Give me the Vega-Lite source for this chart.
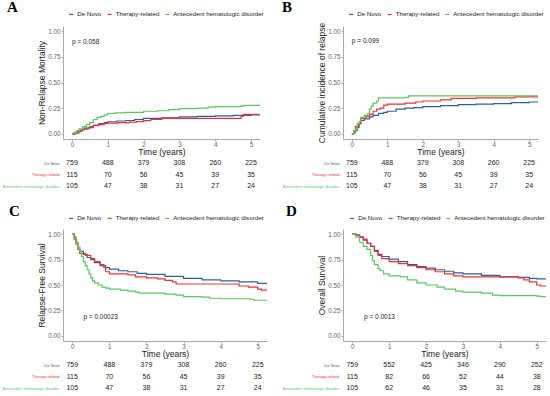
{
  "$schema": "https://vega.github.io/schema/vega-lite/v6.json",
  "background": "white",
  "padding": {"left": 2, "top": 0, "right": 2, "bottom": 0},
  "columns": 2,
  "bounds": "flush",
  "align": "each",
  "spacing": {"row": 0, "column": 76},
  "resolve": {"scale": {"color": "independent", "x": "independent", "y": "independent"}},
  "datasets": {
    "A": [
      {"group": "De Novo", "t": 0, "v": 0}, {"group": "De Novo", "t": 0.08, "v": 0.01}, {"group": "De Novo", "t": 0.15, "v": 0.025}, {"group": "De Novo", "t": 0.25, "v": 0.04}, {"group": "De Novo", "t": 0.35, "v": 0.055}, {"group": "De Novo", "t": 0.5, "v": 0.07}, {"group": "De Novo", "t": 0.6, "v": 0.085}, {"group": "De Novo", "t": 0.75, "v": 0.1}, {"group": "De Novo", "t": 0.9, "v": 0.11}, {"group": "De Novo", "t": 1.0, "v": 0.118}, {"group": "De Novo", "t": 1.25, "v": 0.125}, {"group": "De Novo", "t": 1.5, "v": 0.13}, {"group": "De Novo", "t": 1.75, "v": 0.14}, {"group": "De Novo", "t": 2.0, "v": 0.15}, {"group": "De Novo", "t": 2.5, "v": 0.157}, {"group": "De Novo", "t": 3.0, "v": 0.166}, {"group": "De Novo", "t": 3.5, "v": 0.17}, {"group": "De Novo", "t": 4.0, "v": 0.175}, {"group": "De Novo", "t": 4.5, "v": 0.18}, {"group": "De Novo", "t": 5.0, "v": 0.185}, {"group": "De Novo", "t": 5.3, "v": 0.19},
      {"group": "Therapy-related", "t": 0, "v": 0}, {"group": "Therapy-related", "t": 0.1, "v": 0.01}, {"group": "Therapy-related", "t": 0.2, "v": 0.03}, {"group": "Therapy-related", "t": 0.3, "v": 0.045}, {"group": "Therapy-related", "t": 0.45, "v": 0.06}, {"group": "Therapy-related", "t": 0.6, "v": 0.08}, {"group": "Therapy-related", "t": 0.75, "v": 0.09}, {"group": "Therapy-related", "t": 0.9, "v": 0.1}, {"group": "Therapy-related", "t": 1.0, "v": 0.105}, {"group": "Therapy-related", "t": 1.3, "v": 0.11}, {"group": "Therapy-related", "t": 1.6, "v": 0.115}, {"group": "Therapy-related", "t": 1.8, "v": 0.12}, {"group": "Therapy-related", "t": 2.0, "v": 0.128}, {"group": "Therapy-related", "t": 2.2, "v": 0.14}, {"group": "Therapy-related", "t": 2.5, "v": 0.15}, {"group": "Therapy-related", "t": 4.72, "v": 0.17}, {"group": "Therapy-related", "t": 4.78, "v": 0.19}, {"group": "Therapy-related", "t": 5.3, "v": 0.19},
      {"group": "Antecedent hematologic disorder", "t": 0, "v": 0}, {"group": "Antecedent hematologic disorder", "t": 0.05, "v": 0.01}, {"group": "Antecedent hematologic disorder", "t": 0.12, "v": 0.03}, {"group": "Antecedent hematologic disorder", "t": 0.2, "v": 0.05}, {"group": "Antecedent hematologic disorder", "t": 0.3, "v": 0.07}, {"group": "Antecedent hematologic disorder", "t": 0.4, "v": 0.09}, {"group": "Antecedent hematologic disorder", "t": 0.5, "v": 0.11}, {"group": "Antecedent hematologic disorder", "t": 0.6, "v": 0.14}, {"group": "Antecedent hematologic disorder", "t": 0.7, "v": 0.16}, {"group": "Antecedent hematologic disorder", "t": 0.8, "v": 0.17}, {"group": "Antecedent hematologic disorder", "t": 0.9, "v": 0.185}, {"group": "Antecedent hematologic disorder", "t": 1.0, "v": 0.198}, {"group": "Antecedent hematologic disorder", "t": 1.2, "v": 0.205}, {"group": "Antecedent hematologic disorder", "t": 1.5, "v": 0.21}, {"group": "Antecedent hematologic disorder", "t": 2.0, "v": 0.22}, {"group": "Antecedent hematologic disorder", "t": 2.4, "v": 0.225}, {"group": "Antecedent hematologic disorder", "t": 2.7, "v": 0.235}, {"group": "Antecedent hematologic disorder", "t": 3.0, "v": 0.246}, {"group": "Antecedent hematologic disorder", "t": 3.5, "v": 0.25}, {"group": "Antecedent hematologic disorder", "t": 3.8, "v": 0.26}, {"group": "Antecedent hematologic disorder", "t": 4.0, "v": 0.265}, {"group": "Antecedent hematologic disorder", "t": 4.7, "v": 0.27}, {"group": "Antecedent hematologic disorder", "t": 4.8, "v": 0.278}, {"group": "Antecedent hematologic disorder", "t": 5.3, "v": 0.28}
    ],
    "B": [
      {"group": "De Novo", "t": 0, "v": 0}, {"group": "De Novo", "t": 0.05, "v": 0.01}, {"group": "De Novo", "t": 0.1, "v": 0.03}, {"group": "De Novo", "t": 0.15, "v": 0.06}, {"group": "De Novo", "t": 0.2, "v": 0.1}, {"group": "De Novo", "t": 0.25, "v": 0.13}, {"group": "De Novo", "t": 0.35, "v": 0.145}, {"group": "De Novo", "t": 0.5, "v": 0.165}, {"group": "De Novo", "t": 0.6, "v": 0.18}, {"group": "De Novo", "t": 0.75, "v": 0.2}, {"group": "De Novo", "t": 0.9, "v": 0.21}, {"group": "De Novo", "t": 1.0, "v": 0.22}, {"group": "De Novo", "t": 1.25, "v": 0.24}, {"group": "De Novo", "t": 1.5, "v": 0.25}, {"group": "De Novo", "t": 1.75, "v": 0.255}, {"group": "De Novo", "t": 2.0, "v": 0.265}, {"group": "De Novo", "t": 2.5, "v": 0.275}, {"group": "De Novo", "t": 3.0, "v": 0.285}, {"group": "De Novo", "t": 3.5, "v": 0.29}, {"group": "De Novo", "t": 4.0, "v": 0.295}, {"group": "De Novo", "t": 4.5, "v": 0.305}, {"group": "De Novo", "t": 5.0, "v": 0.31}, {"group": "De Novo", "t": 5.3, "v": 0.31},
      {"group": "Therapy-related", "t": 0, "v": 0}, {"group": "Therapy-related", "t": 0.05, "v": 0.03}, {"group": "Therapy-related", "t": 0.1, "v": 0.07}, {"group": "Therapy-related", "t": 0.2, "v": 0.1}, {"group": "Therapy-related", "t": 0.25, "v": 0.15}, {"group": "Therapy-related", "t": 0.4, "v": 0.17}, {"group": "Therapy-related", "t": 0.5, "v": 0.19}, {"group": "Therapy-related", "t": 0.6, "v": 0.22}, {"group": "Therapy-related", "t": 0.7, "v": 0.24}, {"group": "Therapy-related", "t": 0.8, "v": 0.25}, {"group": "Therapy-related", "t": 0.9, "v": 0.28}, {"group": "Therapy-related", "t": 1.0, "v": 0.29}, {"group": "Therapy-related", "t": 1.5, "v": 0.3}, {"group": "Therapy-related", "t": 1.8, "v": 0.31}, {"group": "Therapy-related", "t": 2.0, "v": 0.32}, {"group": "Therapy-related", "t": 2.5, "v": 0.33}, {"group": "Therapy-related", "t": 2.8, "v": 0.345}, {"group": "Therapy-related", "t": 3.5, "v": 0.35}, {"group": "Therapy-related", "t": 4.6, "v": 0.36}, {"group": "Therapy-related", "t": 5.3, "v": 0.36},
      {"group": "Antecedent hematologic disorder", "t": 0, "v": 0}, {"group": "Antecedent hematologic disorder", "t": 0.05, "v": 0.02}, {"group": "Antecedent hematologic disorder", "t": 0.1, "v": 0.05}, {"group": "Antecedent hematologic disorder", "t": 0.15, "v": 0.1}, {"group": "Antecedent hematologic disorder", "t": 0.2, "v": 0.12}, {"group": "Antecedent hematologic disorder", "t": 0.25, "v": 0.16}, {"group": "Antecedent hematologic disorder", "t": 0.35, "v": 0.18}, {"group": "Antecedent hematologic disorder", "t": 0.45, "v": 0.2}, {"group": "Antecedent hematologic disorder", "t": 0.5, "v": 0.24}, {"group": "Antecedent hematologic disorder", "t": 0.55, "v": 0.27}, {"group": "Antecedent hematologic disorder", "t": 0.6, "v": 0.3}, {"group": "Antecedent hematologic disorder", "t": 0.7, "v": 0.32}, {"group": "Antecedent hematologic disorder", "t": 0.75, "v": 0.35}, {"group": "Antecedent hematologic disorder", "t": 1.5, "v": 0.355}, {"group": "Antecedent hematologic disorder", "t": 1.6, "v": 0.37}, {"group": "Antecedent hematologic disorder", "t": 5.3, "v": 0.37}
    ],
    "C": [
      {"group": "De Novo", "t": 0, "v": 1}, {"group": "De Novo", "t": 0.05, "v": 0.97}, {"group": "De Novo", "t": 0.1, "v": 0.92}, {"group": "De Novo", "t": 0.15, "v": 0.87}, {"group": "De Novo", "t": 0.2, "v": 0.83}, {"group": "De Novo", "t": 0.3, "v": 0.8}, {"group": "De Novo", "t": 0.4, "v": 0.77}, {"group": "De Novo", "t": 0.5, "v": 0.75}, {"group": "De Novo", "t": 0.6, "v": 0.72}, {"group": "De Novo", "t": 0.75, "v": 0.69}, {"group": "De Novo", "t": 0.9, "v": 0.67}, {"group": "De Novo", "t": 1.0, "v": 0.655}, {"group": "De Novo", "t": 1.25, "v": 0.64}, {"group": "De Novo", "t": 1.5, "v": 0.63}, {"group": "De Novo", "t": 1.75, "v": 0.615}, {"group": "De Novo", "t": 2.0, "v": 0.605}, {"group": "De Novo", "t": 2.5, "v": 0.585}, {"group": "De Novo", "t": 3.0, "v": 0.565}, {"group": "De Novo", "t": 3.5, "v": 0.55}, {"group": "De Novo", "t": 4.0, "v": 0.54}, {"group": "De Novo", "t": 4.5, "v": 0.53}, {"group": "De Novo", "t": 5.0, "v": 0.515}, {"group": "De Novo", "t": 5.3, "v": 0.51},
      {"group": "Therapy-related", "t": 0, "v": 1}, {"group": "Therapy-related", "t": 0.05, "v": 0.95}, {"group": "Therapy-related", "t": 0.1, "v": 0.9}, {"group": "Therapy-related", "t": 0.15, "v": 0.85}, {"group": "Therapy-related", "t": 0.2, "v": 0.81}, {"group": "Therapy-related", "t": 0.35, "v": 0.79}, {"group": "Therapy-related", "t": 0.5, "v": 0.76}, {"group": "Therapy-related", "t": 0.6, "v": 0.73}, {"group": "Therapy-related", "t": 0.75, "v": 0.7}, {"group": "Therapy-related", "t": 0.85, "v": 0.67}, {"group": "Therapy-related", "t": 0.9, "v": 0.63}, {"group": "Therapy-related", "t": 1.0, "v": 0.61}, {"group": "Therapy-related", "t": 1.5, "v": 0.6}, {"group": "Therapy-related", "t": 1.7, "v": 0.58}, {"group": "Therapy-related", "t": 2.0, "v": 0.57}, {"group": "Therapy-related", "t": 2.3, "v": 0.56}, {"group": "Therapy-related", "t": 2.5, "v": 0.545}, {"group": "Therapy-related", "t": 2.7, "v": 0.53}, {"group": "Therapy-related", "t": 2.8, "v": 0.51}, {"group": "Therapy-related", "t": 4.5, "v": 0.49}, {"group": "Therapy-related", "t": 4.75, "v": 0.48}, {"group": "Therapy-related", "t": 5.0, "v": 0.46}, {"group": "Therapy-related", "t": 5.1, "v": 0.45}, {"group": "Therapy-related", "t": 5.3, "v": 0.45},
      {"group": "Antecedent hematologic disorder", "t": 0, "v": 1}, {"group": "Antecedent hematologic disorder", "t": 0.05, "v": 0.96}, {"group": "Antecedent hematologic disorder", "t": 0.1, "v": 0.92}, {"group": "Antecedent hematologic disorder", "t": 0.15, "v": 0.87}, {"group": "Antecedent hematologic disorder", "t": 0.2, "v": 0.83}, {"group": "Antecedent hematologic disorder", "t": 0.25, "v": 0.78}, {"group": "Antecedent hematologic disorder", "t": 0.3, "v": 0.73}, {"group": "Antecedent hematologic disorder", "t": 0.35, "v": 0.69}, {"group": "Antecedent hematologic disorder", "t": 0.4, "v": 0.65}, {"group": "Antecedent hematologic disorder", "t": 0.45, "v": 0.61}, {"group": "Antecedent hematologic disorder", "t": 0.5, "v": 0.57}, {"group": "Antecedent hematologic disorder", "t": 0.55, "v": 0.54}, {"group": "Antecedent hematologic disorder", "t": 0.6, "v": 0.52}, {"group": "Antecedent hematologic disorder", "t": 0.7, "v": 0.5}, {"group": "Antecedent hematologic disorder", "t": 0.8, "v": 0.48}, {"group": "Antecedent hematologic disorder", "t": 0.9, "v": 0.47}, {"group": "Antecedent hematologic disorder", "t": 1.0, "v": 0.46}, {"group": "Antecedent hematologic disorder", "t": 1.3, "v": 0.45}, {"group": "Antecedent hematologic disorder", "t": 1.5, "v": 0.44}, {"group": "Antecedent hematologic disorder", "t": 1.7, "v": 0.43}, {"group": "Antecedent hematologic disorder", "t": 1.8, "v": 0.42}, {"group": "Antecedent hematologic disorder", "t": 2.5, "v": 0.41}, {"group": "Antecedent hematologic disorder", "t": 2.8, "v": 0.4}, {"group": "Antecedent hematologic disorder", "t": 3.0, "v": 0.385}, {"group": "Antecedent hematologic disorder", "t": 3.5, "v": 0.38}, {"group": "Antecedent hematologic disorder", "t": 3.7, "v": 0.37}, {"group": "Antecedent hematologic disorder", "t": 4.0, "v": 0.365}, {"group": "Antecedent hematologic disorder", "t": 4.8, "v": 0.36}, {"group": "Antecedent hematologic disorder", "t": 4.9, "v": 0.35}, {"group": "Antecedent hematologic disorder", "t": 5.3, "v": 0.35}
    ],
    "D": [
      {"group": "De Novo", "t": 0, "v": 1}, {"group": "De Novo", "t": 0.1, "v": 0.99}, {"group": "De Novo", "t": 0.2, "v": 0.97}, {"group": "De Novo", "t": 0.3, "v": 0.94}, {"group": "De Novo", "t": 0.4, "v": 0.91}, {"group": "De Novo", "t": 0.5, "v": 0.88}, {"group": "De Novo", "t": 0.6, "v": 0.84}, {"group": "De Novo", "t": 0.7, "v": 0.8}, {"group": "De Novo", "t": 0.8, "v": 0.78}, {"group": "De Novo", "t": 1.0, "v": 0.755}, {"group": "De Novo", "t": 1.25, "v": 0.73}, {"group": "De Novo", "t": 1.5, "v": 0.7}, {"group": "De Novo", "t": 1.75, "v": 0.68}, {"group": "De Novo", "t": 2.0, "v": 0.665}, {"group": "De Novo", "t": 2.25, "v": 0.65}, {"group": "De Novo", "t": 2.5, "v": 0.635}, {"group": "De Novo", "t": 2.75, "v": 0.62}, {"group": "De Novo", "t": 3.0, "v": 0.61}, {"group": "De Novo", "t": 3.5, "v": 0.595}, {"group": "De Novo", "t": 4.0, "v": 0.58}, {"group": "De Novo", "t": 4.5, "v": 0.575}, {"group": "De Novo", "t": 4.8, "v": 0.565}, {"group": "De Novo", "t": 5.0, "v": 0.56}, {"group": "De Novo", "t": 5.3, "v": 0.555},
      {"group": "Therapy-related", "t": 0, "v": 1}, {"group": "Therapy-related", "t": 0.1, "v": 0.99}, {"group": "Therapy-related", "t": 0.2, "v": 0.97}, {"group": "Therapy-related", "t": 0.3, "v": 0.95}, {"group": "Therapy-related", "t": 0.4, "v": 0.91}, {"group": "Therapy-related", "t": 0.5, "v": 0.88}, {"group": "Therapy-related", "t": 0.6, "v": 0.83}, {"group": "Therapy-related", "t": 0.7, "v": 0.79}, {"group": "Therapy-related", "t": 0.8, "v": 0.76}, {"group": "Therapy-related", "t": 1.0, "v": 0.73}, {"group": "Therapy-related", "t": 1.25, "v": 0.71}, {"group": "Therapy-related", "t": 1.5, "v": 0.69}, {"group": "Therapy-related", "t": 1.75, "v": 0.67}, {"group": "Therapy-related", "t": 2.0, "v": 0.65}, {"group": "Therapy-related", "t": 2.25, "v": 0.63}, {"group": "Therapy-related", "t": 2.5, "v": 0.61}, {"group": "Therapy-related", "t": 2.75, "v": 0.59}, {"group": "Therapy-related", "t": 3.0, "v": 0.58}, {"group": "Therapy-related", "t": 4.5, "v": 0.57}, {"group": "Therapy-related", "t": 4.65, "v": 0.55}, {"group": "Therapy-related", "t": 4.8, "v": 0.53}, {"group": "Therapy-related", "t": 5.0, "v": 0.5}, {"group": "Therapy-related", "t": 5.1, "v": 0.49}, {"group": "Therapy-related", "t": 5.3, "v": 0.49},
      {"group": "Antecedent hematologic disorder", "t": 0, "v": 1}, {"group": "Antecedent hematologic disorder", "t": 0.1, "v": 0.97}, {"group": "Antecedent hematologic disorder", "t": 0.2, "v": 0.92}, {"group": "Antecedent hematologic disorder", "t": 0.3, "v": 0.88}, {"group": "Antecedent hematologic disorder", "t": 0.4, "v": 0.85}, {"group": "Antecedent hematologic disorder", "t": 0.5, "v": 0.79}, {"group": "Antecedent hematologic disorder", "t": 0.55, "v": 0.74}, {"group": "Antecedent hematologic disorder", "t": 0.6, "v": 0.7}, {"group": "Antecedent hematologic disorder", "t": 0.7, "v": 0.66}, {"group": "Antecedent hematologic disorder", "t": 0.75, "v": 0.64}, {"group": "Antecedent hematologic disorder", "t": 0.85, "v": 0.61}, {"group": "Antecedent hematologic disorder", "t": 1.0, "v": 0.59}, {"group": "Antecedent hematologic disorder", "t": 1.3, "v": 0.58}, {"group": "Antecedent hematologic disorder", "t": 1.5, "v": 0.55}, {"group": "Antecedent hematologic disorder", "t": 1.75, "v": 0.52}, {"group": "Antecedent hematologic disorder", "t": 2.0, "v": 0.5}, {"group": "Antecedent hematologic disorder", "t": 2.3, "v": 0.48}, {"group": "Antecedent hematologic disorder", "t": 2.5, "v": 0.46}, {"group": "Antecedent hematologic disorder", "t": 2.8, "v": 0.44}, {"group": "Antecedent hematologic disorder", "t": 3.0, "v": 0.43}, {"group": "Antecedent hematologic disorder", "t": 3.5, "v": 0.42}, {"group": "Antecedent hematologic disorder", "t": 3.8, "v": 0.4}, {"group": "Antecedent hematologic disorder", "t": 4.0, "v": 0.395}, {"group": "Antecedent hematologic disorder", "t": 5.0, "v": 0.39}, {"group": "Antecedent hematologic disorder", "t": 5.1, "v": 0.385}, {"group": "Antecedent hematologic disorder", "t": 5.3, "v": 0.385}
    ],
    "riskABC": [
      {"group": "De Novo", "t": 0, "n": 759}, {"group": "De Novo", "t": 1, "n": 488}, {"group": "De Novo", "t": 2, "n": 379}, {"group": "De Novo", "t": 3, "n": 308}, {"group": "De Novo", "t": 4, "n": 260}, {"group": "De Novo", "t": 5, "n": 225},
      {"group": "Therapy-related", "t": 0, "n": 115}, {"group": "Therapy-related", "t": 1, "n": 70}, {"group": "Therapy-related", "t": 2, "n": 56}, {"group": "Therapy-related", "t": 3, "n": 45}, {"group": "Therapy-related", "t": 4, "n": 39}, {"group": "Therapy-related", "t": 5, "n": 35},
      {"group": "Antecedent hematologic disorder", "t": 0, "n": 105}, {"group": "Antecedent hematologic disorder", "t": 1, "n": 47}, {"group": "Antecedent hematologic disorder", "t": 2, "n": 38}, {"group": "Antecedent hematologic disorder", "t": 3, "n": 31}, {"group": "Antecedent hematologic disorder", "t": 4, "n": 27}, {"group": "Antecedent hematologic disorder", "t": 5, "n": 24}
    ],
    "riskD": [
      {"group": "De Novo", "t": 0, "n": 759}, {"group": "De Novo", "t": 1, "n": 552}, {"group": "De Novo", "t": 2, "n": 425}, {"group": "De Novo", "t": 3, "n": 346}, {"group": "De Novo", "t": 4, "n": 290}, {"group": "De Novo", "t": 5, "n": 252},
      {"group": "Therapy-related", "t": 0, "n": 115}, {"group": "Therapy-related", "t": 1, "n": 82}, {"group": "Therapy-related", "t": 2, "n": 66}, {"group": "Therapy-related", "t": 3, "n": 52}, {"group": "Therapy-related", "t": 4, "n": 44}, {"group": "Therapy-related", "t": 5, "n": 38},
      {"group": "Antecedent hematologic disorder", "t": 0, "n": 105}, {"group": "Antecedent hematologic disorder", "t": 1, "n": 62}, {"group": "Antecedent hematologic disorder", "t": 2, "n": 46}, {"group": "Antecedent hematologic disorder", "t": 3, "n": 35}, {"group": "Antecedent hematologic disorder", "t": 4, "n": 31}, {"group": "Antecedent hematologic disorder", "t": 5, "n": 28}
    ]
  },
  "concat": [
    {
      "width": 197, "height": 113,
      "title": {"text": "A", "anchor": "start", "frame": "group", "dx": -56, "offset": 0, "dy": 4},
      "layer": [
        {"data": {"name": "A"}, "mark": {"type": "line", "interpolate": "step-after", "clip": true},
         "encoding": {
           "x": {"field": "t", "type": "quantitative", "scale": {"domain": [-0.25, 5.25], "nice": false, "zero": false}, "axis": {"values": [0, 1, 2, 3, 4, 5], "format": "d", "title": "Time (years)", "labelOverlap": false}},
           "y": {"field": "v", "type": "quantitative", "scale": {"domain": [-0.05, 1.05], "nice": false, "zero": false}, "axis": {"values": [0, 0.25, 0.5, 0.75, 1], "format": ".2f", "title": "Non-Relapse Mortality", "labelOverlap": false}},
           "color": {"field": "group", "type": "nominal", "scale": {"domain": ["De Novo", "Therapy-related", "Antecedent hematologic disorder"], "range": ["#2C5EA8", "#EE3030", "#5BC85B"]}, "legend": {"orient": "none", "legendX": 5, "legendY": -15}},
           "strokeWidth": {"field": "group", "type": "nominal", "scale": {"domain": ["De Novo", "Therapy-related", "Antecedent hematologic disorder"], "range": [1.3, 1.3, 1.3]}, "legend": null}
         }},
        {"data": {"values": [{"label": "p = 0.058", "px": 0, "py": 0.89}]}, "mark": {"type": "text", "align": "left", "baseline": "middle", "fontSize": 6.5, "color": "#222"},
         "encoding": {
           "x": {"field": "px", "type": "quantitative", "axis": {"values": [0, 1, 2, 3, 4, 5], "format": "d", "title": "Time (years)", "labelOverlap": false}},
           "y": {"field": "py", "type": "quantitative", "axis": {"values": [0, 0.25, 0.5, 0.75, 1], "format": ".2f", "title": "Non-Relapse Mortality", "labelOverlap": false}},
           "text": {"field": "label"}}}
      ]
    },
    {
      "width": 195, "height": 113,
      "title": {"text": "B", "anchor": "start", "frame": "group", "dx": -61, "offset": 0, "dy": 4},
      "layer": [
        {"data": {"name": "B"}, "mark": {"type": "line", "interpolate": "step-after", "clip": true},
         "encoding": {
           "x": {"field": "t", "type": "quantitative", "scale": {"domain": [-0.25, 5.25], "nice": false, "zero": false}, "axis": {"values": [0, 1, 2, 3, 4, 5], "format": "d", "title": "Time (years)", "labelOverlap": false}},
           "y": {"field": "v", "type": "quantitative", "scale": {"domain": [-0.05, 1.05], "nice": false, "zero": false}, "axis": {"values": [0, 0.25, 0.5, 0.75, 1], "format": ".2f", "title": "Cumulative incidence of relapse", "labelOverlap": false}},
           "color": {"field": "group", "type": "nominal", "scale": {"domain": ["De Novo", "Therapy-related", "Antecedent hematologic disorder"], "range": ["#2C5EA8", "#EE3030", "#5BC85B"]}, "legend": {"orient": "none", "legendX": 5, "legendY": -15}},
           "strokeWidth": {"field": "group", "type": "nominal", "scale": {"domain": ["De Novo", "Therapy-related", "Antecedent hematologic disorder"], "range": [1.3, 1.3, 1.3]}, "legend": null}
         }},
        {"data": {"values": [{"label": "p = 0.099", "px": 0, "py": 0.9}]}, "mark": {"type": "text", "align": "left", "baseline": "middle", "fontSize": 6.5, "color": "#222"},
         "encoding": {
           "x": {"field": "px", "type": "quantitative", "axis": {"values": [0, 1, 2, 3, 4, 5], "format": "d", "title": "Time (years)", "labelOverlap": false}},
           "y": {"field": "py", "type": "quantitative", "axis": {"values": [0, 0.25, 0.5, 0.75, 1], "format": ".2f", "title": "Cumulative incidence of relapse", "labelOverlap": false}},
           "text": {"field": "label"}}}
      ]
    },
    {
      "width": 197, "height": 90,
      "data": {"name": "riskABC"},
      "mark": {"type": "text", "fontSize": 7, "color": "#222", "baseline": "middle"},
      "encoding": {
        "x": {"field": "t", "type": "quantitative", "scale": {"domain": [-0.25, 5.25], "nice": false, "zero": false}, "axis": null},
        "y": {"field": "group", "type": "nominal", "sort": ["De Novo", "Therapy-related", "Antecedent hematologic disorder"], "scale": {"type": "point", "padding": 0, "range": [24, 47]},
              "axis": {"title": null, "domain": false, "ticks": false, "labelFontSize": 3.9, "labelPadding": 4, "labelColor": {"condition": [{"test": "datum.value === 'De Novo'", "value": "#2C5EA8"}, {"test": "datum.value === 'Therapy-related'", "value": "#EE3030"}], "value": "#5BC85B"}}},
        "text": {"field": "n", "type": "quantitative"}
      }
    },
    {
      "width": 195, "height": 90,
      "data": {"name": "riskABC"},
      "mark": {"type": "text", "fontSize": 7, "color": "#222", "baseline": "middle"},
      "encoding": {
        "x": {"field": "t", "type": "quantitative", "scale": {"domain": [-0.25, 5.25], "nice": false, "zero": false}, "axis": null},
        "y": {"field": "group", "type": "nominal", "sort": ["De Novo", "Therapy-related", "Antecedent hematologic disorder"], "scale": {"type": "point", "padding": 0, "range": [24, 47]},
              "axis": {"title": null, "domain": false, "ticks": false, "labelFontSize": 3.9, "labelPadding": 4, "labelColor": {"condition": [{"test": "datum.value === 'De Novo'", "value": "#2C5EA8"}, {"test": "datum.value === 'Therapy-related'", "value": "#EE3030"}], "value": "#5BC85B"}}},
        "text": {"field": "n", "type": "quantitative"}
      }
    },
    {
      "width": 204, "height": 112,
      "title": {"text": "C", "anchor": "start", "frame": "group", "dx": -54, "offset": 0, "dy": 4},
      "layer": [
        {"data": {"name": "C"}, "mark": {"type": "line", "interpolate": "step-after", "clip": true},
         "encoding": {
           "x": {"field": "t", "type": "quantitative", "scale": {"domain": [-0.25, 5.25], "nice": false, "zero": false}, "axis": {"values": [0, 1, 2, 3, 4, 5], "format": "d", "title": "Time (years)", "labelOverlap": false}},
           "y": {"field": "v", "type": "quantitative", "scale": {"domain": [-0.05, 1.05], "nice": false, "zero": false}, "axis": {"values": [0, 0.25, 0.5, 0.75, 1], "format": ".2f", "title": "Relapse-Free Survival", "labelOverlap": false}},
           "color": {"field": "group", "type": "nominal", "scale": {"domain": ["De Novo", "Therapy-related", "Antecedent hematologic disorder"], "range": ["#2C5EA8", "#EE3030", "#5BC85B"]}, "legend": {"orient": "none", "legendX": 5, "legendY": -14}},
           "strokeWidth": {"field": "group", "type": "nominal", "scale": {"domain": ["De Novo", "Therapy-related", "Antecedent hematologic disorder"], "range": [2.2, 1.2, 1.2]}, "legend": null}
         }},
        {"data": {"values": [{"label": "p = 0.00023", "px": 0.3, "py": 0.19}]}, "mark": {"type": "text", "align": "left", "baseline": "middle", "fontSize": 6.5, "color": "#222"},
         "encoding": {
           "x": {"field": "px", "type": "quantitative", "axis": {"values": [0, 1, 2, 3, 4, 5], "format": "d", "title": "Time (years)", "labelOverlap": false}},
           "y": {"field": "py", "type": "quantitative", "axis": {"values": [0, 0.25, 0.5, 0.75, 1], "format": ".2f", "title": "Relapse-Free Survival", "labelOverlap": false}},
           "text": {"field": "label"}}}
      ]
    },
    {
      "width": 203, "height": 112,
      "title": {"text": "D", "anchor": "start", "frame": "group", "dx": -57, "offset": 0, "dy": 4},
      "layer": [
        {"data": {"name": "D"}, "mark": {"type": "line", "interpolate": "step-after", "clip": true},
         "encoding": {
           "x": {"field": "t", "type": "quantitative", "scale": {"domain": [-0.25, 5.25], "nice": false, "zero": false}, "axis": {"values": [0, 1, 2, 3, 4, 5], "format": "d", "title": "Time (years)", "labelOverlap": false}},
           "y": {"field": "v", "type": "quantitative", "scale": {"domain": [-0.05, 1.05], "nice": false, "zero": false}, "axis": {"values": [0, 0.25, 0.5, 0.75, 1], "format": ".2f", "title": "Overall Survival", "labelOverlap": false}},
           "color": {"field": "group", "type": "nominal", "scale": {"domain": ["De Novo", "Therapy-related", "Antecedent hematologic disorder"], "range": ["#2C5EA8", "#EE3030", "#5BC85B"]}, "legend": {"orient": "none", "legendX": 6, "legendY": -14}},
           "strokeWidth": {"field": "group", "type": "nominal", "scale": {"domain": ["De Novo", "Therapy-related", "Antecedent hematologic disorder"], "range": [2.2, 1.2, 1.2]}, "legend": null}
         }},
        {"data": {"values": [{"label": "p = 0.0013", "px": 0.32, "py": 0.19}]}, "mark": {"type": "text", "align": "left", "baseline": "middle", "fontSize": 6.5, "color": "#222"},
         "encoding": {
           "x": {"field": "px", "type": "quantitative", "axis": {"values": [0, 1, 2, 3, 4, 5], "format": "d", "title": "Time (years)", "labelOverlap": false}},
           "y": {"field": "py", "type": "quantitative", "axis": {"values": [0, 0.25, 0.5, 0.75, 1], "format": ".2f", "title": "Overall Survival", "labelOverlap": false}},
           "text": {"field": "label"}}}
      ]
    },
    {
      "width": 204, "height": 54,
      "data": {"name": "riskABC"},
      "mark": {"type": "text", "fontSize": 7, "color": "#222", "baseline": "middle"},
      "encoding": {
        "x": {"field": "t", "type": "quantitative", "scale": {"domain": [-0.25, 5.25], "nice": false, "zero": false}, "axis": null},
        "y": {"field": "group", "type": "nominal", "sort": ["De Novo", "Therapy-related", "Antecedent hematologic disorder"], "scale": {"type": "point", "padding": 0, "range": [24, 47]},
              "axis": {"title": null, "domain": false, "ticks": false, "labelFontSize": 3.9, "labelPadding": 4, "labelColor": {"condition": [{"test": "datum.value === 'De Novo'", "value": "#2C5EA8"}, {"test": "datum.value === 'Therapy-related'", "value": "#EE3030"}], "value": "#5BC85B"}}},
        "text": {"field": "n", "type": "quantitative"}
      }
    },
    {
      "width": 203, "height": 54,
      "data": {"name": "riskD"},
      "mark": {"type": "text", "fontSize": 7, "color": "#222", "baseline": "middle"},
      "encoding": {
        "x": {"field": "t", "type": "quantitative", "scale": {"domain": [-0.25, 5.25], "nice": false, "zero": false}, "axis": null},
        "y": {"field": "group", "type": "nominal", "sort": ["De Novo", "Therapy-related", "Antecedent hematologic disorder"], "scale": {"type": "point", "padding": 0, "range": [24, 47]},
              "axis": {"title": null, "domain": false, "ticks": false, "labelFontSize": 3.9, "labelPadding": 4, "labelColor": {"condition": [{"test": "datum.value === 'De Novo'", "value": "#2C5EA8"}, {"test": "datum.value === 'Therapy-related'", "value": "#EE3030"}], "value": "#5BC85B"}}},
        "text": {"field": "n", "type": "quantitative"}
      }
    }
  ],
  "config": {
    "font": "Liberation Sans",
    "view": {"stroke": null},
    "line": {"strokeWidth": 1.2},
    "title": {"font": "Liberation Serif", "fontSize": 15, "fontWeight": "bold", "color": "#000"},
    "axis": {"grid": false, "labelOverlap": false, "labelBound": false, "labelFlush": false, "domainColor": "#aaaaaa", "tickColor": "#aaaaaa", "tickSize": 2, "labelColor": "#666666", "labelFontSize": 6.3, "labelPadding": 1, "titleFontSize": 8.5, "titleFontWeight": "normal", "titleColor": "#222222", "titlePadding": 1},
    "axisX": {"titlePadding": 0, "labelPadding": 0},
    "legend": {"title": null, "direction": "horizontal", "labelFontSize": 6.2, "labelColor": "#222222", "symbolType": "stroke", "symbolSize": 16, "symbolStrokeWidth": 1.5, "labelOffset": 3, "columnPadding": 2.5, "rowPadding": 0}
  }
}
